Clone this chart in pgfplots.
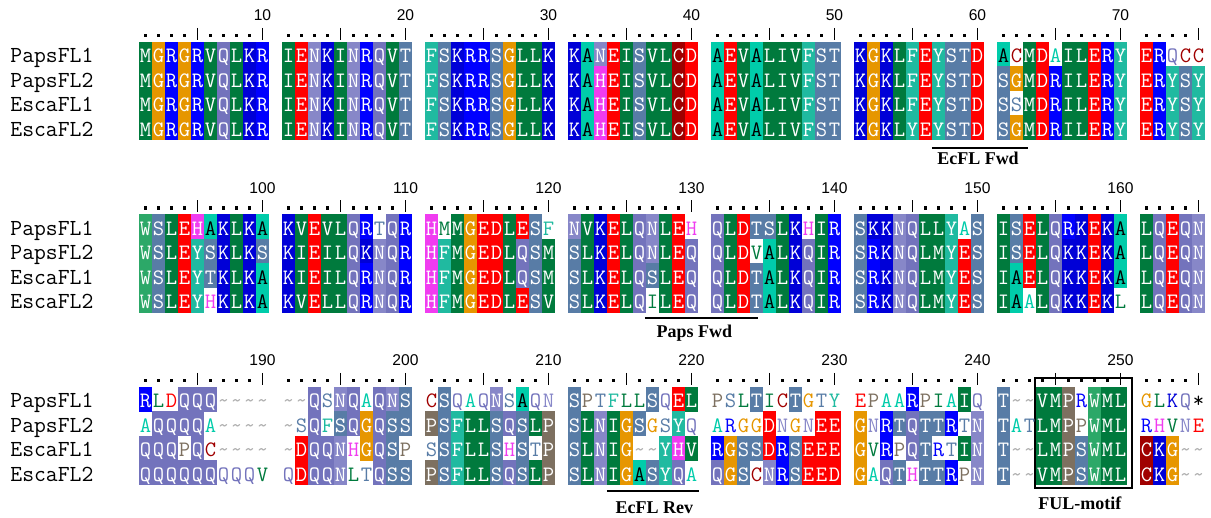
\documentclass[border=0pt]{standalone}
\usepackage{fontspec}
\setmainfont{Liberation Serif}
\newfontfamily\rulerfont{Liberation Sans}
\usepackage{pgfplots}
\pgfplotsset{compat=1.18}

\definecolor{cA}{RGB}{0,204,170}
\definecolor{cC}{RGB}{160,0,0}
\definecolor{cD}{RGB}{255,0,0}
\definecolor{cE}{RGB}{255,0,0}
\definecolor{cF}{RGB}{32,186,160}
\definecolor{cY}{RGB}{32,186,160}
\definecolor{cG}{RGB}{230,150,0}
\definecolor{cH}{RGB}{240,60,240}
\definecolor{cI}{RGB}{0,122,61}
\definecolor{cL}{RGB}{0,122,61}
\definecolor{cM}{RGB}{0,122,61}
\definecolor{cV}{RGB}{0,122,61}
\definecolor{cK}{RGB}{0,0,215}
\definecolor{cR}{RGB}{0,0,255}
\definecolor{cN}{RGB}{135,135,200}
\definecolor{cQ}{RGB}{115,115,188}
\definecolor{cP}{RGB}{125,112,96}
\definecolor{cS}{RGB}{88,124,166}
\definecolor{cT}{RGB}{88,124,166}
\definecolor{cW}{RGB}{44,168,104}
\definecolor{gapgray}{RGB}{175,175,175}

\newcommand\resfont{\ttfamily\fontsize{11}{11}\selectfont}
\newcommand\namefont{\ttfamily\fontsize{11.5}{12}\selectfont}

\newcommand\defres[2]{%
  \pgfdeclareplotmark{r#1s}{%
    \pgfsetfillcolor{c#1}%
    \pgfpathrectangle{\pgfpoint{-3.3pt}{-6.2pt}}{\pgfpoint{6.6pt}{12.4pt}}%
    \pgfusepath{fill}%
    \pgftext[base,at={\pgfpoint{0pt}{-4.2pt}}]{\color{#2}\resfont #1}}%
  \pgfdeclareplotmark{r#1u}{%
    \pgftext[base,at={\pgfpoint{0pt}{-4.2pt}}]{\color{c#1}\resfont #1}}}
\defres{A}{black}
\defres{C}{white}\defres{D}{white}\defres{E}{white}\defres{F}{white}
\defres{G}{white}\defres{H}{white}\defres{I}{white}\defres{K}{white}
\defres{L}{white}\defres{M}{white}\defres{N}{white}\defres{P}{white}
\defres{Q}{white}\defres{R}{white}\defres{S}{white}\defres{T}{white}
\defres{V}{white}\defres{W}{white}\defres{Y}{white}
\pgfdeclareplotmark{rgap}{\pgftext[base,at={\pgfpoint{0pt}{-4.2pt}}]{\color{gapgray}\resfont\char`\~}}
\pgfdeclareplotmark{rstop}{\pgftext[base,at={\pgfpoint{0pt}{-4.2pt}}]{\color{black}\resfont *}}

\makeatletter
\newcommand\maplet[2]{\expandafter\gdef\csname cl@#1\endcsname{#1s}\expandafter\gdef\csname cl@#2\endcsname{#1u}}
\maplet Aa \maplet Cc \maplet Dd \maplet Ee \maplet Ff \maplet Gg \maplet Hh
\maplet Ii \maplet Kk \maplet Ll \maplet Mm \maplet Nn \maplet Pp \maplet Qq
\maplet Rr \maplet Ss \maplet Tt \maplet Vv \maplet Ww \maplet Yy
\expandafter\gdef\csname cl@-\endcsname{gap}
\expandafter\gdef\csname cl@*\endcsname{stop}
\newcount\cellx
\newcommand\buildrow[3]{%
  \global\cellx=0
  \gdef#1{}%
  \@tfor\c:=#3\do{%
    \if\c|\relax
    \else
      \xdef#1{#1 (\the\cellx,#2) [\csname cl@\c\endcsname]}%
    \fi
    \global\advance\cellx by 1\relax}}
\makeatother

\newcommand\buildruler[4]{%
  \gdef#1{}\gdef#2{}%
  \foreach \b in {0,...,7}{%
    \foreach \p in {0,1,2,3}{\pgfmathtruncatemacro\jj{11*\b+\p}\xdef#1{#1 (\jj,#3)}}%
    \pgfmathtruncatemacro\jj{11*\b+4}\xdef#2{#2 (\jj,#4)}%
    \ifnum\b<7\relax
      \foreach \p in {5,6,7,8}{\pgfmathtruncatemacro\jj{11*\b+\p}\xdef#1{#1 (\jj,#3)}}%
      \pgfmathtruncatemacro\jj{11*\b+9}\xdef#2{#2 (\jj,#4)}%
    \fi}}

% ---- alignment data (upper case = shaded cell, lower case = unshaded, - = gap) ----
\buildrow\ra{54.25}{MGRGRVQLKR|IENKINRQVT|FSKRRSGLLK|KANEISVLCD|AEVALIVFST|KGKLFEYSTD|AcMDaILERY|ERqcc}
\buildrow\rb{78.75}{MGRGRVQLKR|IENKINRQVT|FSKRRSGLLK|KAHEISVLCD|AEVALIVFST|KGKLFEYSTD|SGMDRILERY|ERYSY}
\buildrow\rc{103.25}{MGRGRVQLKR|IENKINRQVT|FSKRRSGLLK|KAHEISVLCD|AEVALIVFST|KGKLFEYSTD|SsMDRILERY|ERYSY}
\buildrow\rd{127.75}{MGRGRVQLKR|IENKINRQVT|FSKRRSGLLK|KAHEISVLCD|AEVALIVFST|KGKLYEYSTD|SGMDRILERY|ERYSY}
\buildrow\re{226.75}{WSLEHAKLKA|KVEVLQRtQR|HmMGEDLESf|NVKELQNLEh|QLDTSLKhIR|SKKNQLLYaS|ISELQRKEKA|LQEQN}
\buildrow\rf{251.25}{WSLEYSKLKS|KIEILQKNQR|HFMGEDLQSM|SLKELQNLEQ|QLDvALKQIR|SRKNQLMYES|ISELQKKEKA|LQEQN}
\buildrow\rg{275.75}{WSLEYTKLKA|KIEILQRNQR|HFMGEDLQSM|SLKELQSLEQ|QLDTALKQIR|SRKNQLMYES|IAELQKKEKA|LQEQN}
\buildrow\rh{300.25}{WSLEYhKLKA|KVELLQRNQR|HFMGEDLESV|SLKELQiLEQ|QLDTALKQIR|SRKNQLMYES|IAaLQKKEKl|LQEQN}
\buildrow\ri{399.25}{RldQQQ----|--QsNQaQNS|cSqaqNsAqn|SptfllSqEL|pslTicTgty|epaaRpiaIq|T--VMPrWML|glkq*}
\buildrow\rj{423.75}{aQQQQa----|-sQfSQGQSS|PSFLLSQSLP|SLNIGSgsYq|arggDngnEE|GnRTQTTRtN|TatLMPpWML|rhvne}
\buildrow\rk{448.25}{QQQpQc----|-DQQNhGQSp|sSFLLShStP|SLNIG--YHV|RGSSDRSEEE|GvRpQTrtIN|T--LMPSWML|CKG--}
\buildrow\rl{472.75}{QQQQQQqqqv|qDQQNltQSS|PSFLLSQSLP|SLNIGASYQa|QGScNRSEED|GaQThTTRpN|T--VMPSWML|CKG--}

\buildruler\dotA\tickA{35.5}{34}
\buildruler\dotB\tickB{208}{206.5}
\buildruler\dotC\tickC{380.5}{379}

\pgfplotsset{
  resplot/.style={scatter, only marks, scatter src=explicit symbolic,
    scatter/classes={As={mark=rAs},Au={mark=rAu},Cs={mark=rCs},Cu={mark=rCu},
      Ds={mark=rDs},Du={mark=rDu},Es={mark=rEs},Eu={mark=rEu},Fs={mark=rFs},Fu={mark=rFu},
      Gs={mark=rGs},Gu={mark=rGu},Hs={mark=rHs},Hu={mark=rHu},Is={mark=rIs},Iu={mark=rIu},
      Ks={mark=rKs},Ku={mark=rKu},Ls={mark=rLs},Lu={mark=rLu},Ms={mark=rMs},Mu={mark=rMu},
      Ns={mark=rNs},Nu={mark=rNu},Ps={mark=rPs},Pu={mark=rPu},Qs={mark=rQs},Qu={mark=rQu},
      Rs={mark=rRs},Ru={mark=rRu},Ss={mark=rSs},Su={mark=rSu},Ts={mark=rTs},Tu={mark=rTu},
      Vs={mark=rVs},Vu={mark=rVu},Ws={mark=rWs},Wu={mark=rWu},Ys={mark=rYs},Yu={mark=rYu},
      gap={mark=rgap},stop={mark=rstop}}},
  dotplot/.style={only marks, mark=square*, mark size=0.6pt, black, mark options={draw=none}},
  tickplot/.style={only marks, mark=|, mark size=3pt, black, mark options={line width=0.75pt}},
}
\tikzset{rnum/.style={font=\rulerfont\fontsize{7.8}{8}\selectfont, inner sep=0pt},
  sname/.style={anchor=base west, font=\namefont, inner sep=0pt},
  annot/.style={font=\bfseries\fontsize{9}{9}\selectfont, inner sep=0pt}}
\newcommand\plotwith[2]{\expandafter\plotwithaux\expandafter{#2}{#1}}
\newcommand\plotwithaux[2]{\addplot[#2] coordinates {#1};}

\begin{document}
\begin{tikzpicture}
\path[use as bounding box] (0,0) rectangle (605.5pt,259pt);
\begin{axis}[at={(0,0)}, anchor=south west, scale only axis,
  width=605.5pt, height=259pt,
  xmin=-11.1923, xmax=81.9615, ymin=0, ymax=518, y dir=reverse,
  hide axis, clip=false]

% rulers
\plotwith{dotplot}{\dotA}\plotwith{tickplot}{\tickA}
\plotwith{dotplot}{\dotB}\plotwith{tickplot}{\tickB}
\plotwith{dotplot}{\dotC}\plotwith{tickplot}{\tickC}

% residues
\plotwith{resplot}{\ra}\plotwith{resplot}{\rb}\plotwith{resplot}{\rc}\plotwith{resplot}{\rd}
\plotwith{resplot}{\re}\plotwith{resplot}{\rf}\plotwith{resplot}{\rg}\plotwith{resplot}{\rh}
\plotwith{resplot}{\ri}\plotwith{resplot}{\rj}\plotwith{resplot}{\rk}\plotwith{resplot}{\rl}

% primer bars and motif box
\addplot[black, line width=1.4pt] coordinates {(60.5,148) (67.88,148)};
\addplot[black, line width=1.4pt] coordinates {(38.42,318) (47.12,318)};
\addplot[black, line width=1.4pt] coordinates {(35.5,491) (42.58,491)};
\addplot[black, line width=1.4pt, line cap=rect, line join=miter] coordinates {(68.42,378) (75.88,378) (75.88,488) (68.42,488) (68.42,378)};

% ruler numbers
\node[rnum] at (axis cs:9,15) {10};
\node[rnum] at (axis cs:20,15) {20};
\node[rnum] at (axis cs:31,15) {30};
\node[rnum] at (axis cs:42,15) {40};
\node[rnum] at (axis cs:53,15) {50};
\node[rnum] at (axis cs:64,15) {60};
\node[rnum] at (axis cs:75,15) {70};
\node[rnum] at (axis cs:9,188) {100};
\node[rnum] at (axis cs:20,188) {110};
\node[rnum] at (axis cs:31,188) {120};
\node[rnum] at (axis cs:42,188) {130};
\node[rnum] at (axis cs:53,188) {140};
\node[rnum] at (axis cs:64,188) {150};
\node[rnum] at (axis cs:75,188) {160};
\node[rnum] at (axis cs:9,360) {190};
\node[rnum] at (axis cs:20,360) {200};
\node[rnum] at (axis cs:31,360) {210};
\node[rnum] at (axis cs:42,360) {220};
\node[rnum] at (axis cs:53,360) {230};
\node[rnum] at (axis cs:64,360) {240};
\node[rnum] at (axis cs:75,360) {250};

% sequence names
\node[sname] at (axis cs:-10.42,63) {PapsFL1};
\node[sname] at (axis cs:-10.42,87.5) {PapsFL2};
\node[sname] at (axis cs:-10.42,112) {EscaFL1};
\node[sname] at (axis cs:-10.42,136.5) {EscaFL2};
\node[sname] at (axis cs:-10.42,235.5) {PapsFL1};
\node[sname] at (axis cs:-10.42,260) {PapsFL2};
\node[sname] at (axis cs:-10.42,284.5) {EscaFL1};
\node[sname] at (axis cs:-10.42,309) {EscaFL2};
\node[sname] at (axis cs:-10.42,408) {PapsFL1};
\node[sname] at (axis cs:-10.42,432.5) {PapsFL2};
\node[sname] at (axis cs:-10.42,457) {EscaFL1};
\node[sname] at (axis cs:-10.42,481.5) {EscaFL2};

% annotations
\node[annot] at (axis cs:64.04,158) {EcFL Fwd};
\node[annot] at (axis cs:42.23,333) {Paps Fwd};
\node[annot] at (axis cs:39.15,508) {EcFL Rev};
\node[annot] at (axis cs:71.88,503) {FUL-motif};
\end{axis}
\end{tikzpicture}
\end{document}
